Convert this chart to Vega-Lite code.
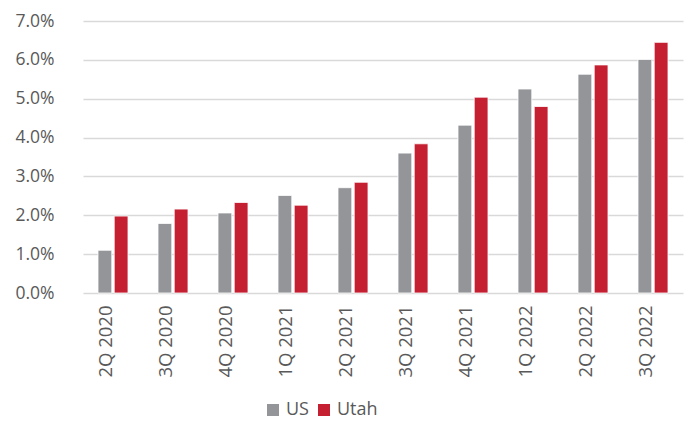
{
  "$schema": "https://vega.github.io/schema/vega-lite/v6.json",
  "width": 600,
  "height": 272,
  "autosize": {"type": "none"},
  "padding": {"left": 83, "top": 21, "right": 7, "bottom": 129},
  "background": "white",
  "config": {
    "view": {"stroke": null},
    "font": "Open Sans"
  },
  "data": {
    "values": [
      {"quarter": "2Q 2020", "series": "US", "value": 1.10},
      {"quarter": "2Q 2020", "series": "Utah", "value": 1.98},
      {"quarter": "3Q 2020", "series": "US", "value": 1.79},
      {"quarter": "3Q 2020", "series": "Utah", "value": 2.16},
      {"quarter": "4Q 2020", "series": "US", "value": 2.06},
      {"quarter": "4Q 2020", "series": "Utah", "value": 2.33},
      {"quarter": "1Q 2021", "series": "US", "value": 2.51},
      {"quarter": "1Q 2021", "series": "Utah", "value": 2.26},
      {"quarter": "2Q 2021", "series": "US", "value": 2.71},
      {"quarter": "2Q 2021", "series": "Utah", "value": 2.85},
      {"quarter": "3Q 2021", "series": "US", "value": 3.60},
      {"quarter": "3Q 2021", "series": "Utah", "value": 3.84},
      {"quarter": "4Q 2021", "series": "US", "value": 4.32},
      {"quarter": "4Q 2021", "series": "Utah", "value": 5.04},
      {"quarter": "1Q 2022", "series": "US", "value": 5.25},
      {"quarter": "1Q 2022", "series": "Utah", "value": 4.80},
      {"quarter": "2Q 2022", "series": "US", "value": 5.63},
      {"quarter": "2Q 2022", "series": "Utah", "value": 5.87},
      {"quarter": "3Q 2022", "series": "US", "value": 6.01},
      {"quarter": "3Q 2022", "series": "Utah", "value": 6.45}
    ]
  },
  "mark": {"type": "bar", "stroke": "white", "strokeWidth": 0.8},
  "encoding": {
    "x": {
      "field": "quarter",
      "type": "nominal",
      "sort": null,
      "scale": {"paddingInner": 0.5, "paddingOuter": 0.25},
      "axis": {
        "title": null,
        "labelAngle": -90,
        "labelFontSize": 18.5,
        "labelColor": "#595959",
        "labelPadding": 12,
        "labelOffset": -7,
        "ticks": false,
        "domain": false
      }
    },
    "xOffset": {
      "field": "series",
      "type": "nominal",
      "scale": {"paddingInner": 0.15}
    },
    "y": {
      "field": "value",
      "type": "quantitative",
      "scale": {"domain": [0, 7]},
      "axis": {
        "title": null,
        "values": [0, 1, 2, 3, 4, 5, 6, 7],
        "labelExpr": "format(datum.value, '.1f') + '%'",
        "labelFontSize": 17.5,
        "labelColor": "#595959",
        "labelPadding": 29,
        "ticks": false,
        "domain": false,
        "grid": true,
        "gridColor": "#d9d9d9",
        "gridWidth": 1.5
      }
    },
    "color": {
      "field": "series",
      "type": "nominal",
      "scale": {"domain": ["US", "Utah"], "range": ["#939598", "#c52032"]},
      "legend": {
        "title": null,
        "orient": "none",
        "direction": "horizontal",
        "legendX": 181,
        "legendY": 380,
        "symbolType": "square",
        "symbolSize": 144,
        "symbolStrokeWidth": 0,
        "labelFontSize": 18,
        "labelColor": "#595959",
        "columnPadding": 6,
        "labelOffset": 4
      }
    }
  }
}
